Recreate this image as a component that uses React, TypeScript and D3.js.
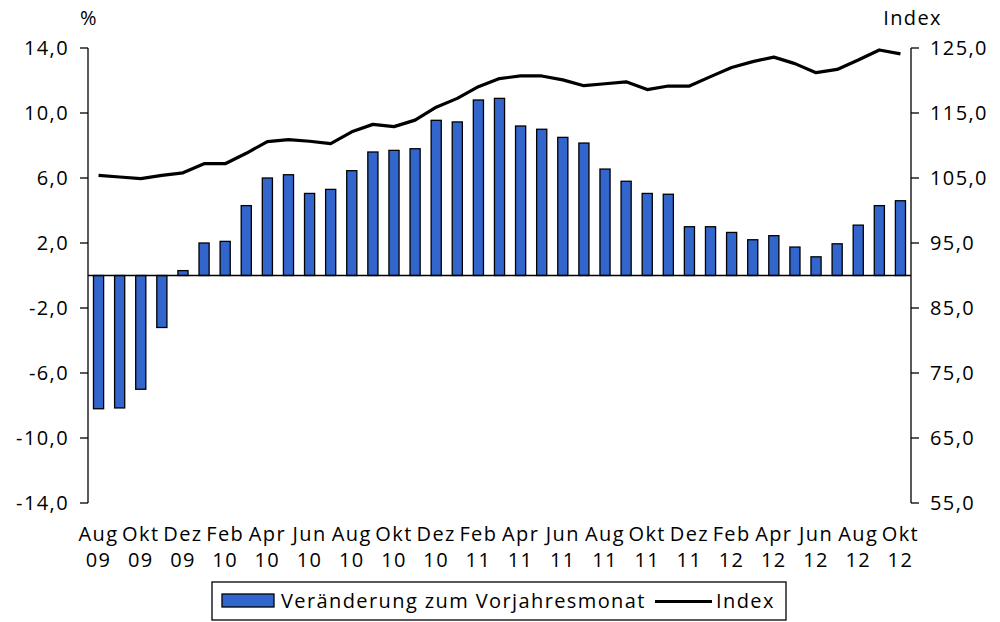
import * as d3 from 'd3';

const months = [
  'Aug 09', 'Sep 09', 'Okt 09', 'Nov 09', 'Dez 09', 'Jan 10', 'Feb 10', 'Mär 10', 'Apr 10', 'Mai 10',
  'Jun 10', 'Jul 10', 'Aug 10', 'Sep 10', 'Okt 10', 'Nov 10', 'Dez 10', 'Jan 11', 'Feb 11', 'Mär 11',
  'Apr 11', 'Mai 11', 'Jun 11', 'Jul 11', 'Aug 11', 'Sep 11', 'Okt 11', 'Nov 11', 'Dez 11', 'Jan 12',
  'Feb 12', 'Mär 12', 'Apr 12', 'Mai 12', 'Jun 12', 'Jul 12', 'Aug 12', 'Sep 12', 'Okt 12',
];

// Veränderung zum Vorjahresmonat (%)
const changePct = [
  -8.2, -8.15, -7.0, -3.2, 0.3, 2.0, 2.1, 4.3, 6.0, 6.2,
  5.05, 5.3, 6.45, 7.6, 7.7, 7.8, 9.55, 9.45, 10.8, 10.9,
  9.2, 9.0, 8.5, 8.15, 6.55, 5.8, 5.05, 5.0, 3.0, 3.0,
  2.65, 2.2, 2.45, 1.75, 1.15, 1.95, 3.1, 4.3, 4.6,
];

// Index
const indexValues = [
  105.4, 105.15, 104.9, 105.4, 105.8, 107.2, 107.2, 108.8, 110.6, 110.9,
  110.65, 110.3, 112.1, 113.25, 112.9, 113.9, 115.9, 117.25, 119.05, 120.3,
  120.7, 120.7, 120.1, 119.2, 119.5, 119.8, 118.6, 119.15, 119.15, 120.6,
  122.0, 122.9, 123.6, 122.6, 121.2, 121.7, 123.15, 124.7, 124.1,
];

const leftTicks = [14, 10, 6, 2, -2, -6, -10, -14];
const rightTicks = [125, 115, 105, 95, 85, 75, 65, 55];

const W = 1000;
const H = 622;
const plot = { left: 88, right: 911, top: 48, bottom: 503 };
const FONT = '"Open Sans", sans-serif';
const BLUE = '#3366CC';

const fmt = (v: number) => v.toFixed(1).replace('.', ',');

export default function App() {
  const x = d3.scaleBand<string>()
    .domain(months)
    .range([plot.left, plot.right])
    .paddingInner(0.52)
    .paddingOuter(0.26);
  const yL = d3.scaleLinear().domain([-14, 14]).range([plot.bottom, plot.top]);
  const yR = d3.scaleLinear().domain([55, 125]).range([plot.bottom, plot.top]);

  const line = d3.line<number>()
    .x((_, i) => x(months[i])! + x.bandwidth() / 2)
    .y(d => yR(d));

  return (
    <svg width={W} height={H} style={{ position: 'absolute', left: 0, top: 0, background: '#fff' }}
      fontFamily={FONT} fontSize={20} letterSpacing={1.4}>
      <rect width={W} height={H} fill="#fff" />

      {/* bars */}
      {changePct.map((v, i) => (
        <rect key={i}
          x={x(months[i])}
          y={yL(Math.max(0, v))}
          width={x.bandwidth()}
          height={Math.abs(yL(v) - yL(0))}
          fill={BLUE} stroke="#000" strokeWidth={1.3} />
      ))}

      {/* zero line */}
      <line x1={plot.left} x2={plot.right} y1={yL(0)} y2={yL(0)} stroke="#000" strokeWidth={1.5} />

      {/* index line */}
      <path d={line(indexValues)!} fill="none" stroke="#000" strokeWidth={3.2} strokeLinejoin="round" />

      {/* left axis */}
      <line x1={plot.left} x2={plot.left} y1={plot.top} y2={plot.bottom} stroke="#000" strokeWidth={1.3} />
      {leftTicks.map(t => (
        <g key={t}>
          <line x1={plot.left - 8} x2={plot.left} y1={yL(t)} y2={yL(t)} stroke="#000" strokeWidth={1.3} />
          <text x={plot.left - 19} y={yL(t)} dy="0.36em" textAnchor="end">{fmt(t)}</text>
        </g>
      ))}
      <text x={80} y={25} textAnchor="start">%</text>

      {/* right axis */}
      <line x1={plot.right} x2={plot.right} y1={plot.top} y2={plot.bottom} stroke="#000" strokeWidth={1.3} />
      {rightTicks.map(t => (
        <g key={t}>
          <line x1={plot.right} x2={plot.right + 8} y1={yR(t)} y2={yR(t)} stroke="#000" strokeWidth={1.3} />
          <text x={plot.right + 19} y={yR(t)} dy="0.36em" textAnchor="start">{fmt(t)}</text>
        </g>
      ))}
      <text x={942} y={25} textAnchor="end">Index</text>

      {/* x labels, every second month */}
      {months.map((m, i) => {
        if (i % 2 !== 0) return null;
        const [mon, yr] = m.split(' ');
        const cx = x(m)! + x.bandwidth() / 2;
        return (
          <g key={m}>
            <text x={cx} y={541} textAnchor="middle">{mon}</text>
            <text x={cx} y={567} textAnchor="middle">{yr}</text>
          </g>
        );
      })}

      {/* legend */}
      <g>
        <rect x={212} y={582} width={574} height={38} fill="#fff" stroke="#000" strokeWidth={1.3} />
        <rect x={222} y={594} width={52} height={13} fill={BLUE} stroke="#000" strokeWidth={1.3} />
        <text x={281} y={608}>Veränderung zum Vorjahresmonat</text>
        <line x1={655} x2={712} y1={601.5} y2={601.5} stroke="#000" strokeWidth={3.2} />
        <text x={716} y={608}>Index</text>
      </g>
    </svg>
  );
}
